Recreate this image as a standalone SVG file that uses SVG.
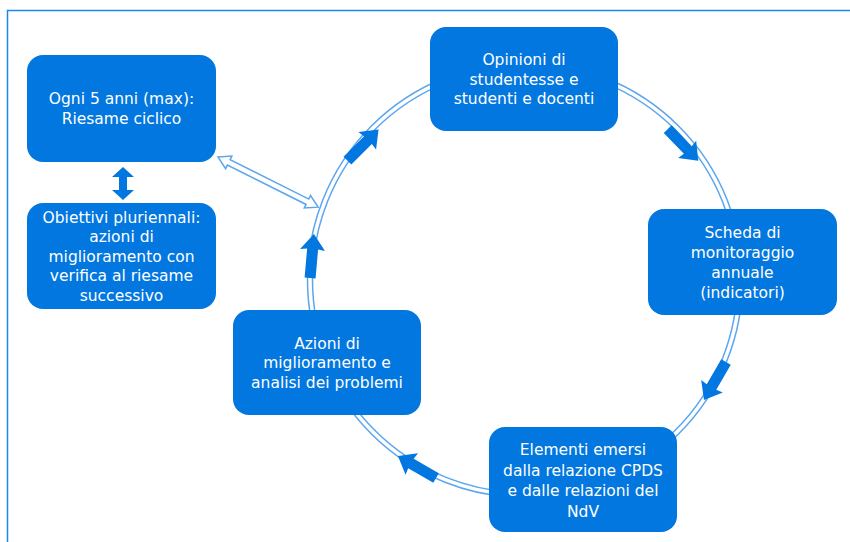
<svg xmlns="http://www.w3.org/2000/svg" width="850" height="542" viewBox="0 0 850 542">
<defs>
<style>
.box{fill:#0277e0;}
.t{font-family:"DejaVu Sans","Liberation Sans",sans-serif;font-size:15.5px;fill:#ffffff;text-anchor:middle;}
.ring-o{fill:none;stroke:#5ba6ef;stroke-width:6.5;}
.ring-i{fill:none;stroke:#ffffff;stroke-width:3.5;}
.blk{fill:#0277e0;}
.hollow{fill:#ffffff;stroke:#5ba6ef;stroke-width:1.5;stroke-linejoin:miter;}
</style>
<path id="arw" d="M-22,-5.5 L7,-5.5 L6,-12.5 L22,0 L6,12.5 L7,5.5 L-22,5.5 Z"/>
</defs>
<rect x="0" y="0" width="850" height="542" fill="#ffffff"/>
<path d="M7.5,542 L7.5,10.5 L850,10.5" fill="none" stroke="#1a86f0" stroke-width="1.5"/>
<g id="connectors">
<circle class="ring-o" cx="525" cy="280" r="215"/>
<circle class="ring-i" cx="525" cy="280" r="215"/>
<use href="#arw" class="blk" transform="translate(363,145) rotate(-45)"/>
<use href="#arw" class="blk" transform="translate(683,145) rotate(46)"/>
<use href="#arw" class="blk" transform="translate(715,381) rotate(120)"/>
<use href="#arw" class="blk" transform="translate(417,467) rotate(210)"/>
<use href="#arw" class="blk" transform="translate(312,256) rotate(275)"/>
<path class="hollow" transform="translate(218,157) rotate(26.6)" d="M0,0 L12,-7 L12,-3 L100,-3 L100,-7 L112,0 L100,7 L100,3 L12,3 L12,7 Z"/>
<path class="blk" d="M123,167 L134,177 L127,177 L127,190 L134,190 L123,200 L112,190 L119,190 L119,177 L112,177 Z"/>
</g>
<g id="n-riesame">
<rect class="box" x="27" y="55" width="189" height="107" rx="16"/>
<text class="t" x="121.5" y="104">Ogni 5 anni (max):</text>
<text class="t" x="121.5" y="124">Riesame ciclico</text>
</g>
<g id="n-obiettivi">
<rect class="box" x="27" y="203" width="189" height="106" rx="16"/>
<text class="t" x="121.5" y="222.5">Obiettivi pluriennali:</text>
<text class="t" x="121.5" y="242">azioni di</text>
<text class="t" x="121.5" y="261.5">miglioramento con</text>
<text class="t" x="121.5" y="281">verifica al riesame</text>
<text class="t" x="121.5" y="300.5">successivo</text>
</g>
<g id="n-opinioni">
<rect class="box" x="430" y="27" width="188" height="104" rx="16"/>
<text class="t" x="524" y="65">Opinioni di</text>
<text class="t" x="524" y="84.5">studentesse e</text>
<text class="t" x="524" y="104">studenti e docenti</text>
</g>
<g id="n-scheda">
<rect class="box" x="648" y="209" width="189" height="106" rx="16"/>
<text class="t" x="742.5" y="238">Scheda di</text>
<text class="t" x="742.5" y="258">monitoraggio</text>
<text class="t" x="742.5" y="278">annuale</text>
<text class="t" x="742.5" y="298">(indicatori)</text>
</g>
<g id="n-elementi">
<rect class="box" x="489" y="427" width="188" height="105" rx="16"/>
<text class="t" x="583" y="455">Elementi emersi</text>
<text class="t" x="583" y="475.5">dalla relazione CPDS</text>
<text class="t" x="583" y="496">e dalle relazioni del</text>
<text class="t" x="583" y="516.5">NdV</text>
</g>
<g id="n-azioni">
<rect class="box" x="233" y="310" width="188" height="105" rx="16"/>
<text class="t" x="327" y="348.5">Azioni di</text>
<text class="t" x="327" y="368">miglioramento e</text>
<text class="t" x="327" y="387.5">analisi dei problemi</text>
</g>
</svg>
